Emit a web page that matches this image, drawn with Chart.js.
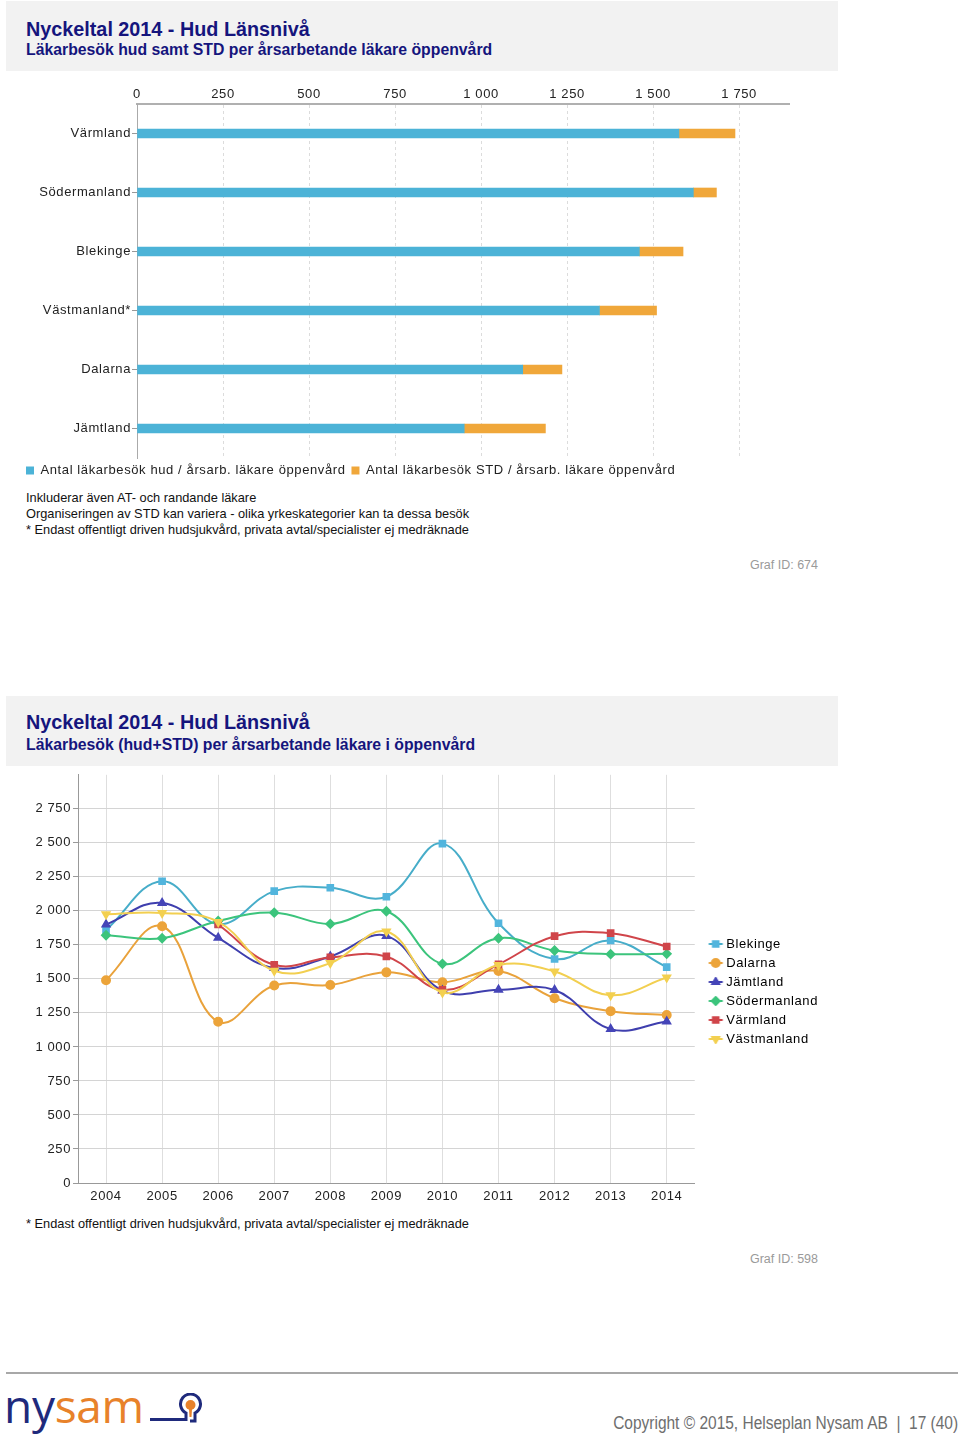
<!DOCTYPE html>
<html>
<head>
<meta charset="utf-8">
<script src="https://cdn.jsdelivr.net/npm/chart.js@4.4.1/dist/chart.umd.min.js"></script>
<style>
  body { margin: 0; background: #fff; font-family: "Liberation Sans", Arial, sans-serif; }
  #page { position: relative; width: 960px; height: 1442px; overflow: hidden; }
  .head { position: absolute; left: 6px; width: 832px; height: 70px; background: #f2f2f2; }
  .title { position: absolute; left: 20px; font-weight: bold; color: #15157d; white-space: nowrap; }
  .t1 { font-size: 19.8px; line-height: 22px; }
  .t2 { font-size: 15.8px; line-height: 18px; }
  .note { position: absolute; left: 26px; font-size: 12.8px; line-height: 16px; color: #111; white-space: nowrap; }
  .graf { position: absolute; right: 142px; font-size: 12.5px; color: #9a9a9a; }
  .box { position: absolute; }
</style>
</head>
<body>
<div id="page">
  <div class="head" style="top:1px">
    <div class="title t1" style="top:17px">Nyckeltal 2014 - Hud Länsnivå</div>
    <div class="title t2" style="top:40px">Läkarbesök hud samt STD per årsarbetande läkare öppenvård</div>
  </div>

  <div class="box" style="left:20px; top:80px; width:779px; height:407px;">
    <canvas id="barChart"></canvas>
  </div>

  <div class="note" style="top:490px">Inkluderar även AT- och randande läkare<br>Organiseringen av STD kan variera - olika yrkeskategorier kan ta dessa besök<br>* Endast offentligt driven hudsjukvård, privata avtal/specialister ej medräknade</div>
  <div class="graf" style="top:558px">Graf ID: 674</div>

  <div class="head" style="top:696px">
    <div class="title t1" style="top:15px">Nyckeltal 2014 - Hud Länsnivå</div>
    <div class="title t2" style="top:40px">Läkarbesök (hud+STD) per årsarbetande läkare i öppenvård</div>
  </div>

  <div class="box" style="left:0px; top:765px; width:828px; height:445px;">
    <canvas id="lineChart"></canvas>
  </div>

  <div class="note" style="top:1216px">* Endast offentligt driven hudsjukvård, privata avtal/specialister ej medräknade</div>
  <div class="graf" style="top:1252px">Graf ID: 598</div>

  <div style="position:absolute; left:6px; top:1372px; width:952px; height:2px; background:#a8a8a8;"></div>
  <div style="position:absolute; left:4px; top:1376px; font-family:'Open Sans', sans-serif; font-size:46px; line-height:58px; letter-spacing:-0.3px;"><span style="color:#1f2a7c">ny</span><span style="color:#e8822a">sam</span></div>
  <svg style="position:absolute; left:148px; top:1393px" width="62" height="36" viewBox="0 0 62 36">
    <rect x="2" y="25" width="35" height="3" fill="#1f2a7c"/>
    <path d="M35 26.5 L38 26.5 L38 20 A10 10 0 1 1 47 20 L47 28 L42 28" fill="none" stroke="#1f2a7c" stroke-width="3"/>
    <circle cx="42.5" cy="12" r="5" fill="#e8822a"/>
    <path d="M41 16 L44 16 L43.5 24 L41.5 24 Z" fill="#e8822a"/>
  </svg>
  <div style="position:absolute; right:2px; top:1413px; font-family:'Liberation Sans', sans-serif; font-size:18px; color:#6e6e6e; white-space:nowrap; transform:scaleX(0.86); transform-origin:right center;">Copyright © 2015, Helseplan Nysam AB &nbsp;|&nbsp; 17 (40)</div>
</div>

<script>
// bar chart data
const barCategories = ['Värmland', 'Södermanland', 'Blekinge', 'Västmanland*', 'Dalarna', 'Jämtland'];
const hudValues = [1575, 1617, 1460, 1344, 1121, 951];
const stdValues = [163, 67, 127, 166, 114, 236];
const barTickStep = 250;

// line chart data
const years = ['2004', '2005', '2006', '2007', '2008', '2009', '2010', '2011', '2012', '2013', '2014'];
const blekinge = [1860, 2218, 1902, 2145, 2170, 2104, 2494, 1909, 1646, 1782, 1587];
const dalarna = [1490, 1887, 1185, 1451, 1455, 1548, 1475, 1558, 1358, 1263, 1235];
const jamtland = [1900, 2058, 1802, 1580, 1665, 1816, 1414, 1420, 1418, 1131, 1187];
const sodermanland = [1821, 1799, 1926, 1987, 1904, 1997, 1611, 1799, 1709, 1682, 1684];
const varmland = [null, null, 1900, 1604, 1658, 1665, 1419, 1607, 1814, 1836, 1738];
const vastmanland = [1975, 1985, 1919, 1560, 1616, 1848, 1400, 1602, 1555, 1380, 1510];
const lineTickStep = 250;

function spaced(v) {
    return String(v).replace(/\B(?=(\d{3})+(?!\d))/g, ' ');
}

// wider letters like the original
const spacing = {
    id: 'spacing',
    beforeLayout(chart) { chart.ctx.letterSpacing = '0.6px'; },
    beforeDraw(chart) { chart.ctx.letterSpacing = '0.6px'; }
};

Chart.defaults.font.family = "'Liberation Sans', Arial, sans-serif";
Chart.defaults.font.size = 13;
Chart.defaults.color = '#222';
Chart.defaults.animation = false;

new Chart(document.getElementById('barChart'), {
    type: 'bar',
    data: {
        labels: barCategories,
        datasets: [{
            label: 'Antal läkarbesök hud / årsarb. läkare öppenvård',
            data: hudValues,
            backgroundColor: '#4cb3d7',
            barThickness: 9
        }, {
            label: 'Antal läkarbesök STD / årsarb. läkare öppenvård',
            data: stdValues,
            backgroundColor: '#f0a73a',
            barThickness: 9
        }]
    },
    options: {
        indexAxis: 'y',
        responsive: true,
        maintainAspectRatio: false,
        layout: { padding: { right: 10 } },
        scales: {
            x: {
                position: 'top',
                stacked: true,
                min: 0,
                max: 1895,
                afterBuildTicks: s => { s.ticks = s.ticks.filter(t => t.value % barTickStep === 0); },
                afterFit: s => { s.height = 24; },
                ticks: { stepSize: barTickStep, padding: 2, callback: v => spaced(v) },
                grid: { color: '#dcdcdc', drawTicks: false },
                border: { color: '#b0b0b0', width: 2, dash: [3, 3] }
            },
            y: {
                stacked: true,
                afterFit: s => { s.width = 117; },
                grid: { drawOnChartArea: false, offset: false, tickLength: 5, color: '#999' },
                border: { color: '#aaa' },
                ticks: { padding: 1 }
            }
        },
        plugins: {
            legend: {
                position: 'bottom',
                align: 'start',
                labels: { boxWidth: 8, boxHeight: 8, padding: 6, color: '#222' }
            },
            tooltip: { enabled: false }
        }
    },
    plugins: [spacing]
});

const seriesNames = ['Blekinge', 'Dalarna', 'Jämtland', 'Södermanland', 'Värmland', 'Västmanland'];
const seriesData = [blekinge, dalarna, jamtland, sodermanland, varmland, vastmanland];
const lineColors = ['#47adc9', '#e9a23b', '#3f3fae', '#3cc47c', '#d0454a', '#f2cf50'];
const pointColors = ['#52b5dd', '#eca43a', '#4545b8', '#3cc47c', '#d0454a', '#f3d050'];
const pointStyles = ['rect', 'circle', 'triangle', 'rectRot', 'rect', 'triangle'];
const pointRotations = [0, 0, 0, 0, 0, 180];

// line with marker, shifted right inside the icon so the text sits close
function legendIcon(i) {
    const c = document.createElement('canvas');
    c.width = 28;
    c.height = 10;
    const ctx = c.getContext('2d');
    ctx.strokeStyle = lineColors[i];
    ctx.lineWidth = 2;
    ctx.beginPath();
    ctx.moveTo(12.5, 5);
    ctx.lineTo(26.5, 5);
    ctx.stroke();
    ctx.fillStyle = pointColors[i];
    ctx.strokeStyle = pointColors[i];
    Chart.helpers.drawPoint(ctx, { pointStyle: pointStyles[i], rotation: pointRotations[i], radius: 4, borderWidth: 1 }, 19.5, 5);
    return c;
}

const lineDatasets = seriesNames.map((name, i) => ({
    label: name,
    data: seriesData[i],
    borderColor: lineColors[i],
    backgroundColor: pointColors[i],
    pointBackgroundColor: pointColors[i],
    pointBorderColor: pointColors[i],
    pointStyle: pointStyles[i],
    pointRotation: pointRotations[i],
    pointRadius: 4,
    borderWidth: 2,
    tension: 0.4,
    order: seriesNames.length - i
}));

new Chart(document.getElementById('lineChart'), {
    type: 'line',
    data: { labels: years, datasets: lineDatasets },
    options: {
        responsive: true,
        maintainAspectRatio: false,
        layout: { padding: { top: 8 } },
        scales: {
            x: {
                offset: true,
                afterFit: s => { s.height = 27; },
                grid: { offset: false, color: '#dedede', drawTicks: false },
                border: { color: '#999', width: 1 },
                ticks: { padding: 6 }
            },
            y: {
                min: 0,
                max: 3000,
                afterBuildTicks: s => { s.ticks = s.ticks.filter(t => t.value <= 2750); },
                afterFit: s => { s.width = 78; },
                ticks: { stepSize: lineTickStep, padding: 2, callback: v => spaced(v) },
                grid: { color: '#d4d4d4', tickLength: 5, tickColor: '#999' },
                border: { color: '#999' }
            }
        },
        plugins: {
            legend: {
                position: 'right',
                labels: {
                    usePointStyle: true,
                    pointStyleWidth: 19,
                    padding: 6,
                    color: '#222',
                    generateLabels: chart => chart.data.datasets.map((ds, i) => ({
                        text: ds.label,
                        fillStyle: pointColors[i],
                        strokeStyle: lineColors[i],
                        lineWidth: 0,
                        pointStyle: legendIcon(i),
                        hidden: false,
                        datasetIndex: i
                    }))
                }
            },
            tooltip: { enabled: false }
        }
    },
    plugins: [spacing]
});
</script>
</body>
</html>
